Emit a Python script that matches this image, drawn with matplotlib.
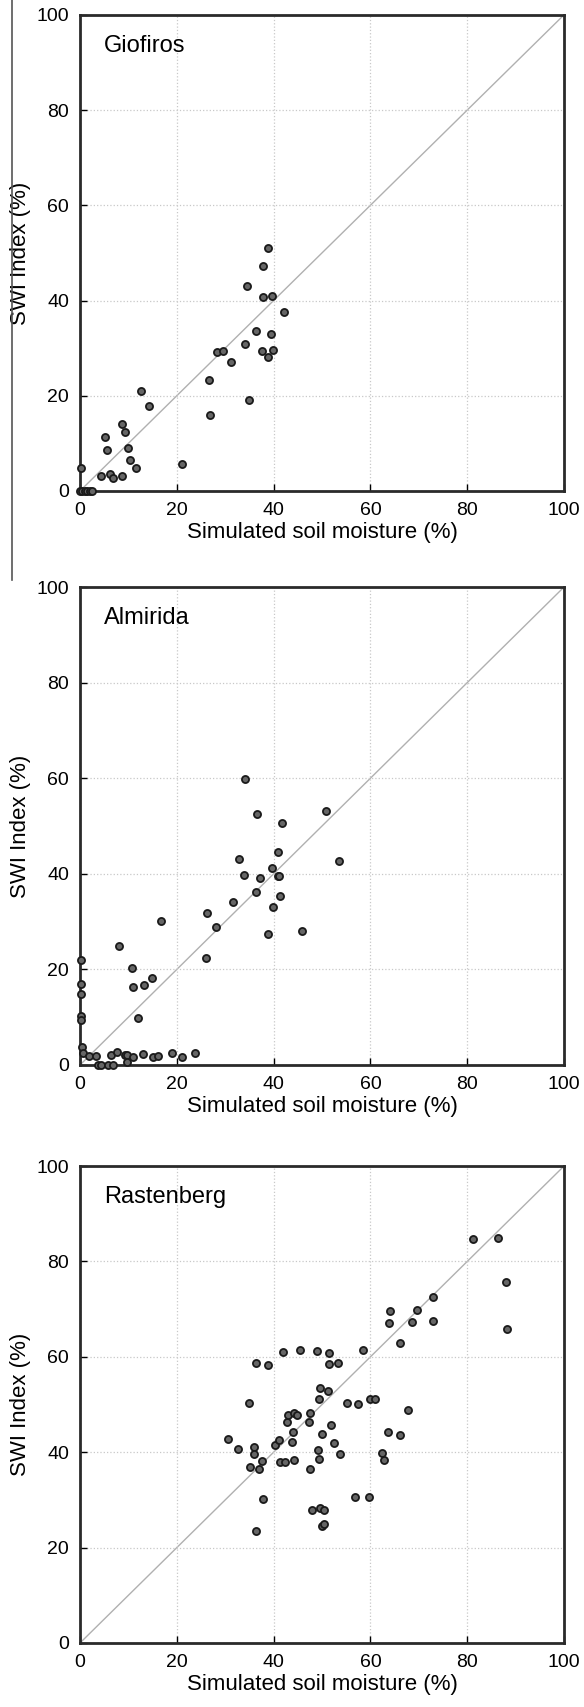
import matplotlib
matplotlib.use("Agg")
import matplotlib.pyplot as plt
from matplotlib.lines import Line2D

plt.rcParams['font.family'] = ['Liberation Sans', 'DejaVu Sans']

# Giofiros
gio_x = [0.3, 0.0, 0.5, 1.0, 1.5, 2.0, 2.5, 4.4, 5.2, 5.6, 6.1, 6.8, 8.6, 8.6, 9.2,
         10.0, 10.4, 11.6, 12.7, 14.3, 21.1, 26.7, 26.9, 28.3, 29.5, 31.1, 34.0,
         34.6, 35.0, 36.3, 37.6, 37.9, 37.9, 38.8, 38.8, 39.5, 39.6, 39.8, 42.2]
gio_y = [4.9, 0.0, 0.0, 0.0, 0.0, 0.0, 0.0, 3.1, 11.3, 8.7, 3.5, 2.7, 3.1, 14.1, 12.4,
         9.0, 6.6, 4.9, 20.9, 17.8, 5.6, 23.4, 15.9, 29.1, 29.4, 27.0, 30.9,
         43.1, 19.1, 33.5, 29.4, 47.2, 40.8, 51.0, 28.1, 32.9, 40.9, 29.6, 37.5]

# Almirida
alm_x = [0.15, 0.2, 0.3, 0.15, 0.3, 0.4, 0.6, 1.9, 3.3, 3.8, 4.4, 5.8, 6.8, 6.4,
         7.7, 8.1, 9.2, 9.7, 9.8, 10.9, 10.8, 11.0, 12.0, 13.1, 13.3, 14.9, 15.1,
         16.2, 16.8, 19.0, 21.0, 23.8, 26.0, 26.3, 28.1, 31.6, 32.9, 33.8, 34.0,
         36.3, 36.5, 37.1, 38.8, 39.6, 39.9, 40.9, 41.2, 41.0, 41.4, 41.8, 45.8,
         50.8, 53.5]
alm_y = [21.9, 16.9, 14.9, 10.2, 9.4, 3.8, 2.6, 1.9, 1.9, 0.0, 0.0, 0.0, 0.0, 2.1,
         2.8, 24.9, 2.1, 2.1, 0.6, 1.7, 20.2, 16.4, 9.9, 2.2, 16.7, 18.1, 1.7,
         1.8, 30.1, 2.5, 1.7, 2.5, 22.3, 31.8, 28.8, 34.2, 43.2, 39.8, 59.9,
         36.2, 52.5, 39.1, 27.5, 41.3, 33.0, 39.5, 39.5, 44.5, 35.4, 50.7, 28.1,
         53.2, 42.7]

# Rastenberg
ras_x = [30.6, 32.6, 34.9, 35.1, 36.0, 36.0, 36.3, 36.3, 36.9, 37.5, 37.9, 38.9,
         40.3, 41.2, 41.3, 41.9, 42.3, 42.8, 42.9, 43.8, 44.0, 44.2, 44.2, 44.9,
         45.4, 47.3, 47.5, 47.5, 47.9, 48.9, 49.2, 49.4, 49.4, 49.5, 49.5, 49.9,
         50.0, 50.5, 50.5, 51.2, 51.4, 51.5, 51.8, 52.5, 53.2, 53.8, 55.1, 56.8,
         57.5, 58.5, 59.8, 59.9, 61.0, 62.3, 62.9, 63.7, 63.9, 64.1, 66.2, 66.2,
         67.8, 68.6, 69.7, 73.0, 73.0, 81.2, 86.3, 88.0, 88.2]
ras_y = [42.7, 40.7, 50.4, 36.9, 41.1, 39.7, 58.8, 23.4, 36.4, 38.1, 30.2, 58.3,
         41.6, 42.6, 37.9, 61.0, 37.9, 46.3, 47.8, 42.1, 44.3, 38.3, 48.2, 47.8,
         61.4, 46.3, 36.4, 48.2, 27.8, 61.2, 40.5, 38.5, 51.1, 53.4, 28.4, 24.5,
         43.8, 27.8, 24.9, 52.9, 60.7, 58.5, 45.8, 41.9, 58.8, 39.7, 50.4, 30.6,
         50.2, 61.4, 30.6, 51.1, 51.1, 39.9, 38.3, 44.2, 67.1, 69.6, 62.8, 43.7,
         48.9, 67.3, 69.8, 72.5, 67.6, 84.6, 84.9, 75.7, 65.9]

sites = ['Giofiros', 'Almirida', 'Rastenberg']
xs = [gio_x, alm_x, ras_x]
ys = [gio_y, alm_y, ras_y]

# 每个子图的位置 (left, bottom, width, height)
boxes = [[0.137, 0.7124, 0.8288, 0.2789],
         [0.137, 0.3761, 0.8288, 0.2800],
         [0.137, 0.0375, 0.8288, 0.2794]]

ticks = [0, 20, 40, 60, 80, 100]

fig = plt.figure(figsize=(5.84, 17.07), dpi=100)

for i in range(3):
    ax = fig.add_axes(boxes[i])
    ax.plot([0, 100], [0, 100], color='#b0b0b0', lw=1.0, zorder=1)
    ax.scatter(xs[i], ys[i], s=26, facecolor='#666666', edgecolor='#1a1a1a',
               linewidths=1.3, zorder=3, clip_on=False)
    ax.set_xlim(0, 100)
    ax.set_ylim(0, 100)
    ax.set_xticks(ticks)
    ax.set_yticks(ticks)
    ax.grid(True, color='#c8c8c8', linestyle=':', linewidth=0.9)
    ax.tick_params(direction='in', length=5, width=1, labelsize=14, pad=8)
    for sp in ax.spines.values():
        sp.set_linewidth(2)
        sp.set_color('#2a2a2a')
    ax.set_xlabel('Simulated soil moisture (%)', fontsize=16, labelpad=2)
    ax.set_ylabel('SWI Index (%)', fontsize=16, labelpad=4)
    ax.text(0.05, 0.935, sites[i], transform=ax.transAxes, fontsize=17,
            va='center', ha='left')

# 左侧的竖线
fig.add_artist(Line2D([0.0205, 0.0205], [1.0, 0.660], transform=fig.transFigure,
                      color='#555555', lw=1.2))

fig.savefig('out.png', dpi=100)
